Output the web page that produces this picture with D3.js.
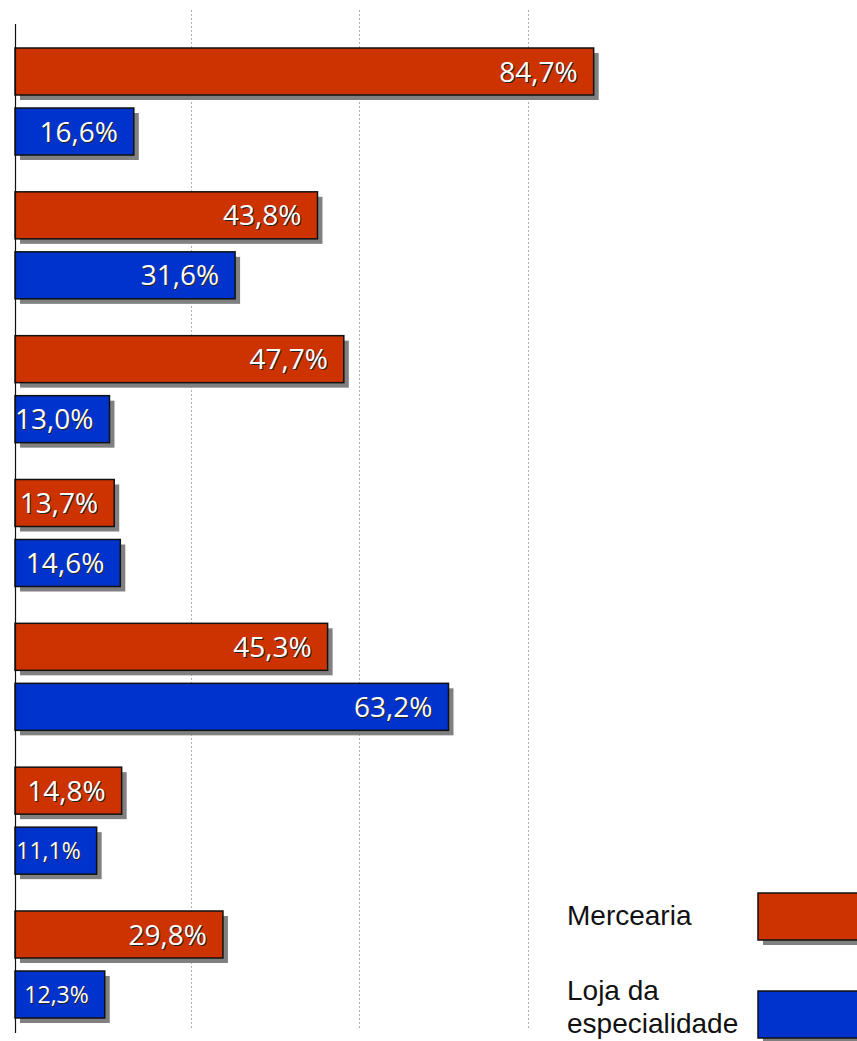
<!DOCTYPE html>
<html><head><meta charset="utf-8">
<script src="https://cdn.jsdelivr.net/npm/d3@7"></script>
<style>html,body{margin:0;padding:0;background:#fff;}svg{display:block;}</style>
</head><body>
<svg id="chart" width="857" height="1041"></svg>
<script>
const categories = ["Grupo 1","Grupo 2","Grupo 3","Grupo 4","Grupo 5","Grupo 6","Grupo 7"];
const seriesNames = ["Mercearia","Loja da especialidade"];
const mercearia = [84.7, 43.8, 47.7, 13.7, 45.3, 14.8, 29.8];
const lojaEspecialidade = [16.6, 31.6, 13.0, 14.6, 63.2, 11.1, 12.3];
const gridTicks = [25, 50, 75];
const colors = ["#CC3300", "#0033CC"];

const fmt = v => d3.format(".1f")(v).replace(".", ",") + "%";
const svg = d3.select("#chart");
const font = "'Open Sans', 'Noto Sans', sans-serif";
const legendFont = "'Liberation Sans', Arial, sans-serif";

const axisX = 15;
const x = d3.scaleLinear().domain([0, 100]).range([21.7, 697]);
const y0 = d3.scaleBand().domain(categories).range([48, 1018]).paddingInner(0.256).paddingOuter(0);
const y1 = d3.scaleBand().domain(seriesNames).range([0, y0.bandwidth()]).paddingInner(0.2167).paddingOuter(0);

svg.append("g").selectAll("line").data(gridTicks).join("line")
  .attr("x1", d => Math.round(x(d)) + 0.5).attr("x2", d => Math.round(x(d)) + 0.5)
  .attr("y1", 10).attr("y2", 1030)
  .attr("stroke", "#b0b0b0").attr("stroke-width", 1).attr("stroke-dasharray", "2,2");

const rows = [];
categories.forEach((c, i) => {
  rows.push({cat: c, s: seriesNames[0], v: mercearia[i], color: colors[0]});
  rows.push({cat: c, s: seriesNames[1], v: lojaEspecialidade[i], color: colors[1]});
});

const g = svg.append("g");
g.selectAll("rect.sh").data(rows).join("rect").attr("class", "sh")
  .attr("x", axisX + 5).attr("y", d => y0(d.cat) + y1(d.s) + 5)
  .attr("width", d => x(d.v) - axisX).attr("height", y1.bandwidth())
  .attr("fill", "#808080");
g.selectAll("rect.bar").data(rows).join("rect").attr("class", "bar")
  .attr("x", axisX).attr("y", d => y0(d.cat) + y1(d.s))
  .attr("width", d => x(d.v) - axisX).attr("height", y1.bandwidth())
  .attr("fill", d => d.color).attr("stroke", "#111").attr("stroke-width", 1.5);

const fs = d => (x(d.v) - axisX) < 92 ? 23 : 28;
g.selectAll("text.lsh").data(rows).join("text").attr("class", "lsh")
  .attr("x", d => x(d.v) - 16 + 1).attr("y", d => y0(d.cat) + y1(d.s) + y1.bandwidth() / 2 + 1)
  .attr("dy", "0.36em").attr("text-anchor", "end")
  .attr("font-family", font).attr("font-size", fs).attr("fill", "#222")
  .text(d => fmt(d.v));
g.selectAll("text.lbl").data(rows).join("text").attr("class", "lbl")
  .attr("x", d => x(d.v) - 16).attr("y", d => y0(d.cat) + y1(d.s) + y1.bandwidth() / 2)
  .attr("dy", "0.36em").attr("text-anchor", "end")
  .attr("font-family", font).attr("font-size", fs).attr("fill", "#fff")
  .text(d => fmt(d.v));

svg.append("line").attr("x1", axisX + 0.5).attr("x2", axisX + 0.5).attr("y1", 24).attr("y2", 1033)
  .attr("stroke", "#111").attr("stroke-width", 1.2);

const legend = svg.append("g");
const legItems = [
  {lines: ["Mercearia"], color: colors[0], boxY: 893, textY: 925},
  {lines: ["Loja da", "especialidade"], color: colors[1], boxY: 991, textY: 1000}
];
legItems.forEach(it => {
  legend.append("rect").attr("x", 763).attr("y", it.boxY + 5).attr("width", 120).attr("height", 47).attr("fill", "#808080");
  legend.append("rect").attr("x", 758).attr("y", it.boxY).attr("width", 120).attr("height", 47)
    .attr("fill", it.color).attr("stroke", "#111").attr("stroke-width", 1.5);
  const t = legend.append("text").attr("x", 567).attr("y", it.textY)
    .attr("font-family", legendFont).attr("font-size", 28).attr("fill", "#111");
  it.lines.forEach((ln, k) => {
    t.append("tspan").attr("x", 567).attr("dy", k === 0 ? 0 : 33).text(ln);
  });
});
</script>
</body></html>
